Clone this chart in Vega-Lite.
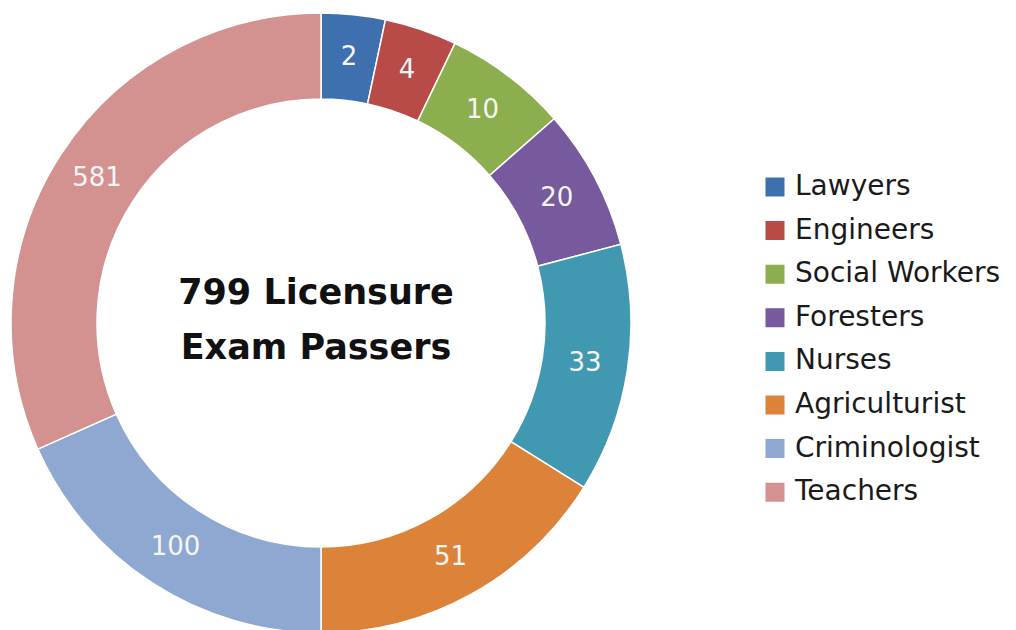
{
  "$schema": "https://vega.github.io/schema/vega-lite/v6.json",
  "width": 642,
  "height": 620,
  "padding": {"left": 0, "top": 10, "right": 0, "bottom": 0},
  "background": "white",
  "config": {"view": {"stroke": null}},
  "layer": [
    {
      "data": {
        "values": [
          {"group": "Lawyers", "passers": 2, "share": 12, "rank": 1},
          {"group": "Engineers", "passers": 4, "share": 13.6, "rank": 2},
          {"group": "Social Workers", "passers": 10, "share": 23.2, "rank": 3},
          {"group": "Foresters", "passers": 20, "share": 26.5, "rank": 4},
          {"group": "Nurses", "passers": 33, "share": 46.7, "rank": 5},
          {"group": "Agriculturist", "passers": 51, "share": 58, "rank": 6},
          {"group": "Criminologist", "passers": 100, "share": 66, "rank": 7},
          {"group": "Teachers", "passers": 581, "share": 114, "rank": 8}
        ]
      },
      "encoding": {
        "theta": {"field": "share", "type": "quantitative", "stack": true},
        "order": {"field": "rank", "type": "quantitative"}
      },
      "layer": [
        {
          "mark": {"type": "arc", "outerRadius": 310, "innerRadius": 224, "stroke": "white", "strokeWidth": 1.5},
          "encoding": {
            "color": {
              "field": "group",
              "type": "nominal",
              "scale": {
                "domain": ["Lawyers", "Engineers", "Social Workers", "Foresters", "Nurses", "Agriculturist", "Criminologist", "Teachers"],
                "range": ["#3e6faf", "#b84a47", "#8cae4e", "#775a9e", "#4199b1", "#dd8239", "#8fa8d2", "#d39190"]
              },
              "legend": {
                "orient": "none",
                "legendX": 761,
                "legendY": 161,
                "title": null,
                "padding": 0,
                "symbolType": "square",
                "symbolSize": 361,
                "symbolStrokeWidth": 0,
                "labelFont": "DejaVu Sans",
                "labelFontSize": 28,
                "labelColor": "#1a1a1a",
                "labelOffset": 6,
                "clipHeight": 26,
                "rowPadding": 15.6,
                "labelLimit": 400
              }
            }
          }
        },
        {
          "mark": {"type": "text", "radius": 267, "font": "DejaVu Sans", "fontSize": 26, "color": "#f5f5f5", "baseline": "middle", "align": "center"},
          "encoding": {
            "text": {"field": "passers", "type": "quantitative"}
          }
        }
      ]
    },
    {
      "data": {"values": [{"title": "799 Licensure\nExam Passers"}]},
      "mark": {"type": "text", "font": "DejaVu Sans", "fontWeight": "bold", "fontSize": 35, "lineBreak": "\n", "lineHeight": 55, "align": "center", "baseline": "middle", "color": "#111111", "dx": -5, "dy": -30},
      "encoding": {"text": {"field": "title", "type": "nominal"}}
    }
  ]
}
